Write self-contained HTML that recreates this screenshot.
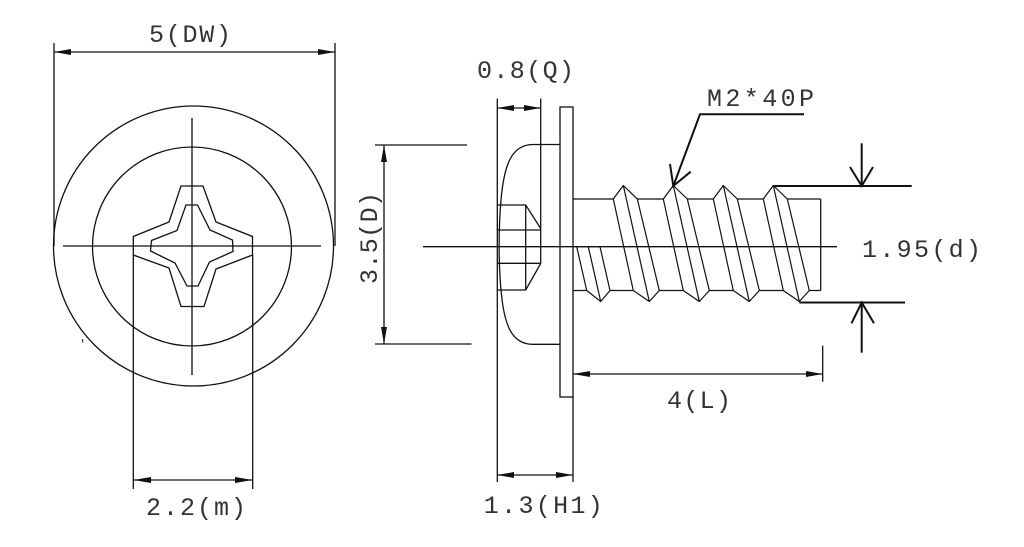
<!DOCTYPE html>
<html>
<head>
<meta charset="utf-8">
<style>
html,body{margin:0;padding:0;background:#fff;}
svg{display:block;}
text{font-family:"Liberation Mono","DejaVu Sans Mono",monospace;font-size:25px;fill:#333;}
</style>
</head>
<body>
<svg width="1024" height="547" viewBox="0 0 1024 547" xmlns="http://www.w3.org/2000/svg">
<rect width="1024" height="547" fill="#fff"/>
<g fill="none" stroke="#111" stroke-width="1.3">
  <!-- HEAD VIEW -->
  <circle cx="193.5" cy="246" r="140"/>
  <circle cx="192" cy="246.5" r="99.5"/>
  <!-- outer recess star -->
  <polygon points="181,186 203,186 216,222 252.5,236.5 252.5,255 216,269 204,306.5 181,306.5 169,268 133.3,255 133.3,236.5 169,222"/>
  <!-- inner star -->
  <polygon points="186,205 197.5,205 210,230 232.5,240 233,251.5 209.5,262 198,286 187,286 175,263 150.5,251 151.5,240.5 177,230.5"/>
  <!-- center lines -->
  <line x1="63" y1="246" x2="321" y2="246"/>
  <line x1="192" y1="118" x2="192" y2="375"/>
  <!-- 5(DW) -->
  <line x1="54" y1="43" x2="54" y2="246"/>
  <line x1="335" y1="43" x2="335" y2="246"/>
  <line x1="54" y1="52" x2="335" y2="52"/>
  <!-- 2.2(m) -->
  <line x1="133.3" y1="255" x2="133.3" y2="489"/>
  <line x1="252.7" y1="255" x2="252.7" y2="489"/>
  <line x1="133.3" y1="480" x2="252.7" y2="480"/>
  <line x1="82.7" y1="339" x2="82.7" y2="342.5" stroke-width="1"/>

  <!-- SIDE VIEW -->
  <line x1="497.3" y1="98.5" x2="497.3" y2="482"/>
  <line x1="540.7" y1="98.5" x2="540.7" y2="263.5"/>
  <line x1="573" y1="397" x2="573" y2="482"/>
  <line x1="497.3" y1="108" x2="540.7" y2="108"/>
  <rect x="560" y="107" width="13" height="290"/>
  <path d="M560 144.5 L533 144.5 C511 144.5 504 166 501 200 C498.5 228 498.5 262 501 290 C504 324 511 344.3 533 344.3 L560 344.3"/>
  <polyline points="497.3,205 525.7,205 540.7,228.5"/>
  <polyline points="497.3,290 525.7,290 540.7,263.5"/>
  <line x1="525.7" y1="205" x2="525.7" y2="290"/>
  <line x1="497.3" y1="230" x2="540.7" y2="230"/>
  <line x1="497.3" y1="263.3" x2="540.7" y2="263.3"/>
  <line x1="375" y1="145" x2="467" y2="145"/>
  <line x1="375" y1="344" x2="471.5" y2="344"/>
  <line x1="384" y1="145" x2="384" y2="344"/>
  <line x1="573" y1="199" x2="820.7" y2="199"/>
  <line x1="573" y1="290.5" x2="820.7" y2="290.5"/>
  <line x1="820.7" y1="199" x2="820.7" y2="290.5"/>
</g>
<g fill="#fff" stroke="#111" stroke-width="1.2" stroke-linejoin="round">
  <polygon points="576.7,246.7 588.3,246.7 600,246.7 610,290.5 600.7,301.5 586.7,290.5"/>
  <line x1="588.3" y1="246.7" x2="600.7" y2="301.5"/>
  <polygon points="613.3,199 623.3,185.5 637.3,199 659.3,290.5 649.3,301.5 633.3,290.5"/>
  <line x1="623.3" y1="185.5" x2="649.3" y2="301.5"/>
  <polygon points="663.3,199 673.3,185.5 687.3,199 709.3,290.5 699.3,301.5 683.3,290.5"/>
  <line x1="673.3" y1="185.5" x2="699.3" y2="301.5"/>
  <polygon points="713.3,199 723.3,185.5 737.3,199 759.3,290.5 749.3,301.5 733.3,290.5"/>
  <line x1="723.3" y1="185.5" x2="749.3" y2="301.5"/>
  <polygon points="763.3,199 773.3,185.5 787.3,199 809.3,290.5 799.3,301.5 783.3,290.5"/>
  <line x1="773.3" y1="185.5" x2="799.3" y2="301.5"/>
</g>
<g fill="none" stroke="#111" stroke-width="1.3">
  <line x1="423" y1="246.7" x2="837" y2="246.7"/>
  <line x1="822.7" y1="345.7" x2="822.7" y2="381.7"/>
  <line x1="573" y1="374" x2="822.7" y2="374"/>
  <line x1="497.3" y1="475" x2="573" y2="475"/>
</g>
<g fill="none" stroke="#111" stroke-width="2">
  <line x1="773" y1="186" x2="911.7" y2="186"/>
  <line x1="799.3" y1="302.5" x2="905" y2="302.5"/>
  <line x1="861.7" y1="143.3" x2="861.7" y2="186"/>
  <polyline points="850,167 861.7,186 873,167"/>
  <line x1="861.7" y1="302.5" x2="861.7" y2="352.7"/>
  <polyline points="851.5,323.3 861.7,302.5 874,323.3"/>
  <polyline points="804,114.3 700,114.3 673.3,186"/>
  <polyline points="670,164 673.3,186 690.7,171.7"/>
</g>
<g fill="#111" stroke="none">
  <polygon points="54,52 71,49 71,55"/>
  <polygon points="335,52 318,49 318,55"/>
  <polygon points="133.3,480 151,477 151,483"/>
  <polygon points="252.7,480 235,477 235,483"/>
  <polygon points="497.3,108 514,105 514,111"/>
  <polygon points="540.7,108 524,105 524,111"/>
  <polygon points="384,145 381,162 387,162"/>
  <polygon points="384,344 381,327 387,327"/>
  <polygon points="573,374 590,371 590,377"/>
  <polygon points="822.7,374 806,371 806,377"/>
  <polygon points="497.3,475 514,472 514,478"/>
  <polygon points="573,475 556,472 556,478"/>
</g>
<text x="190" y="42" text-anchor="middle" textLength="82" lengthAdjust="spacing">5(DW)</text>
<text x="196" y="515" text-anchor="middle" textLength="100" lengthAdjust="spacing">2.2(m)</text>
<text x="525.5" y="78" text-anchor="middle" textLength="97" lengthAdjust="spacing">0.8(Q)</text>
<text x="760.5" y="106" text-anchor="middle" textLength="107" lengthAdjust="spacing">M2*40P</text>
<text x="921.5" y="257" text-anchor="middle" textLength="119" lengthAdjust="spacing">1.95(d)</text>
<text x="699" y="408" text-anchor="middle" textLength="64" lengthAdjust="spacing">4(L)</text>
<text x="543.3" y="513" text-anchor="middle" textLength="119" lengthAdjust="spacing">1.3(H1)</text>
<text x="0" y="0" text-anchor="middle" textLength="92" lengthAdjust="spacing" transform="translate(377,238) rotate(-90)">3.5(D)</text>
</svg>
</body>
</html>
